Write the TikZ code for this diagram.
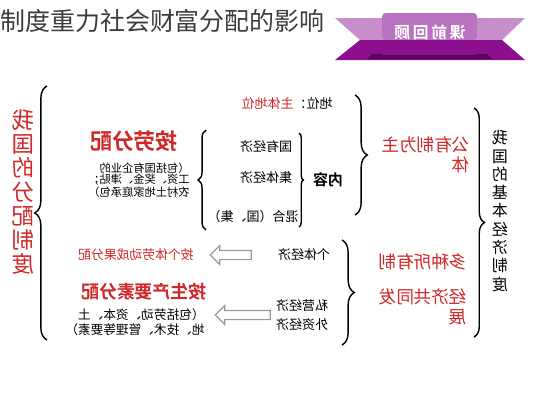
\documentclass[tikz,border=0pt]{standalone}
\usepackage{fontspec}
\setmainfont{Noto Sans CJK SC}[BoldFont={Noto Sans CJK SC Bold}]
\usetikzlibrary{positioning, decorations.pathreplacing, shapes.arrows}

\definecolor{headred}{RGB}{206,40,40}
\definecolor{titlegray}{RGB}{60,60,60}
\definecolor{ribbonlight}{RGB}{200,142,204}
\definecolor{ribbondark}{RGB}{140,16,142}
\definecolor{panellight}{RGB}{184,116,192}
\definecolor{shadowpurple}{RGB}{88,0,94}

\tikzset{
  flipped/.style={xscale=-1, inner sep=0pt},
  bignote/.style={flipped, text=headred, font=\bfseries\fontsize{12.5}{13.6}\selectfont},
  rednote/.style={flipped, text=headred, font=\fontsize{10}{11.3}\selectfont, align=left},
  smallred/.style={flipped, text=headred, font=\fontsize{7.3}{8}\selectfont},
  blacknote/.style={flipped, text=black, font=\fontsize{7.4}{11.3}\selectfont, align=left},
  tinynote/.style={flipped, text=black, font=\fontsize{6.4}{6.4}\selectfont, align=left},
  curly/.style={decorate, decoration={brace, amplitude=#1}, line width=0.8pt},
  hollow/.style={single arrow, draw=gray!80, fill=white, line width=0.7pt,
    minimum width=0.36cm, single arrow head extend=0.1cm, shape border rotate=180, inner sep=0.08cm}
}

\begin{document}
\begin{tikzpicture}[x=0.02cm, y=-0.02cm]
  \useasboundingbox (0,0) rectangle (533,400);
  % title
  \node[anchor=west, text=titlegray, font=\fontsize{14.2}{15}\selectfont, inner sep=0pt] (title) at (0,21) {制度重力社会财富分配的影响};
  % ribbon badge
  \fill[ribbonlight] (335,18) -- (525,18) -- (502,40) -- (360,40) -- cycle;
  \fill[ribbondark] (335,60) -- (525,60) -- (502,40) -- (360,40) -- cycle;
  \fill[shadowpurple] (372,54) -- (487,54) -- (492,59) -- (367,59) -- cycle;
  \fill[panellight, rounded corners=2pt] (382,40) -- (382,13) -- (477,13) -- (477,40) -- cycle;
  \fill[ribbondark] (382,40) rectangle (477,55);
  \node[flipped, text=white, font=\bfseries\fontsize{9}{9}\selectfont] (badge) at (430,33) {课\,前\,回\,顾};

  % left column
  \node[bignote, font=\fontsize{12.8}{13.6}\selectfont, align=center] (vleft) at (23,192) {我\\国\\的\\分\\配\\制\\度};
  \coordinate (leftTop) at (47,86);
  \coordinate (leftBot) at (47,340);
  \draw[curly=7pt] (leftBot) -- (leftTop);

  \node[bignote] (labour) at (134,141) {按劳分配};
  \node[tinynote] (labourNote) at (139,180) {（包括国有企业的\\工资、奖金、津贴；\\农村土地家庭承包）};

  % ownership contents
  \node[blacknote] (status) at (287,103) {地位：{\color{headred}主体地位}};
  \coordinate (midTop) at (206,130);
  \coordinate (midBot) at (206,230);
  \draw[curly=4.5pt] (midBot) -- (midTop);
  \node[blacknote] (stateEco) at (266,147) {国有经济};
  \node[blacknote] (collEco) at (266,178) {集体经济};
  \node[blacknote] (mixEco) at (253,217) {混合（国、集）};
  \coordinate (sqTop) at (299,133);
  \coordinate (sqBot) at (299,227);
  \draw[curly=2.5pt] (sqTop) -- (sqBot);
  \node[flipped, font=\bfseries\fontsize{8.5}{9}\selectfont] (content) at (328,180) {内容};
  \coordinate (pubTop) at (355,95);
  \coordinate (pubBot) at (355,215);
  \draw[curly=7pt] (pubTop) -- (pubBot);

  % right side
  \node[rednote] (publicMain) at (426,155) {公有制为主\\体};
  \node[rednote] (multiOwn) at (423,262) {多种所有制};
  \node[rednote] (coDevelop) at (423,307) {经济共同发\\展};
  \coordinate (rightTop) at (474,108);
  \coordinate (rightBot) at (474,337);
  \draw[curly=6pt] (rightTop) -- (rightBot);
  \node[flipped, align=center, font=\fontsize{9}{10.4}\selectfont] (vright) at (500,211) {我\\国\\的\\基\\本\\经\\济\\制\\度};

  % non-public economy
  \node[blacknote] (indivEco) at (304,255) {个体经济};
  \node[blacknote] (privEco) at (302,315) {私营经济\\外资经济};
  \coordinate (lowTop) at (342,240);
  \coordinate (lowBot) at (342,345);
  \draw[curly=7pt] (lowTop) -- (lowBot);
  \node[hollow, minimum height=0.82cm] (arrowUp) at (233,255) {};
  \node[hollow, minimum height=1.1cm] (arrowLow) at (245,315) {};
  \node[smallred] (indivDist) at (136,255) {按个体劳动成果分配};
  \node[bignote, font=\bfseries\fontsize{10.2}{11}\selectfont] (factor) at (144,292) {按生产要素分配};
  \node[tinynote, font=\fontsize{7.2}{8.5}\selectfont] (factorNote) at (135,322) {（包括劳动、资本、土\\地、技术、管理等要素）};
\end{tikzpicture}
\end{document}
